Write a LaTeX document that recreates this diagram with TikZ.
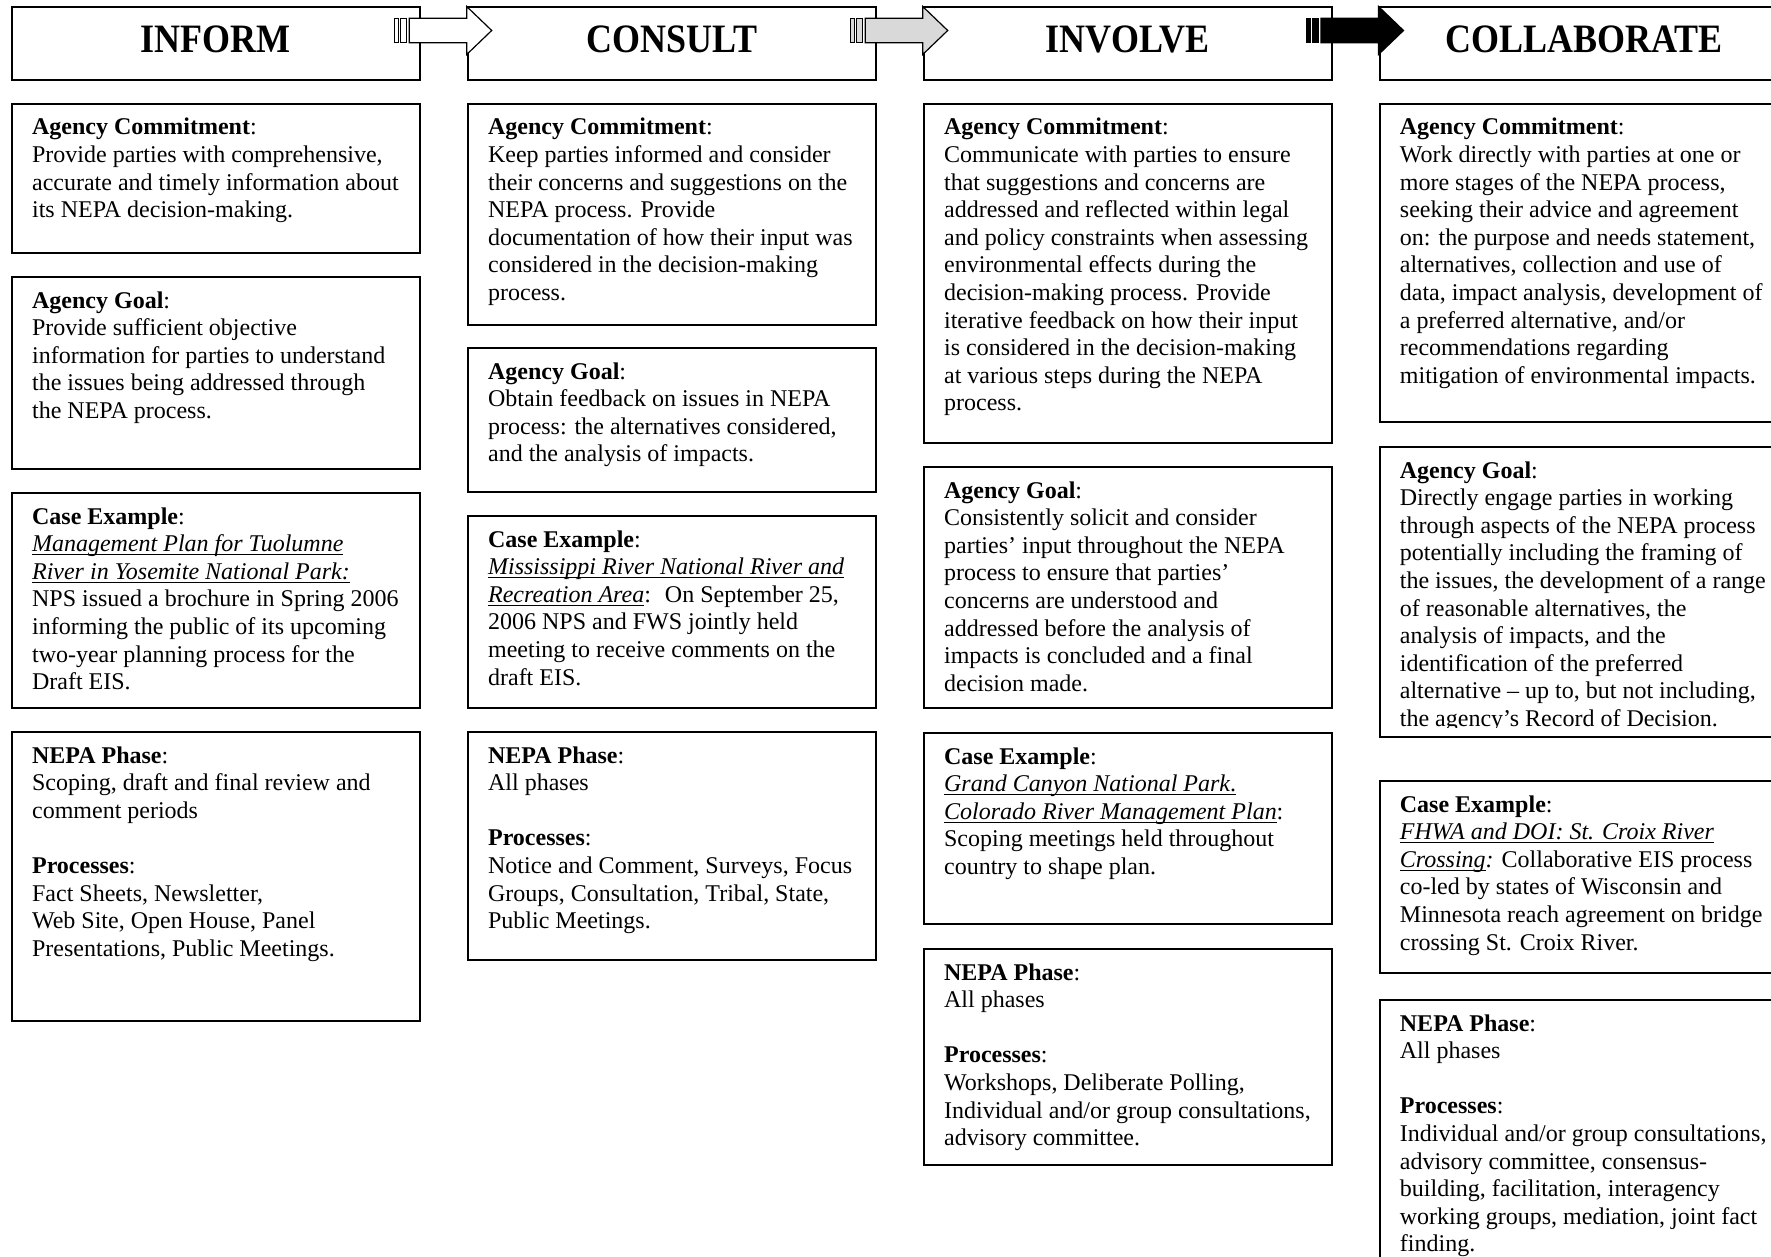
\documentclass[tikz,border=0pt]{standalone}
\usepackage{fontspec}
\setmainfont{Liberation Serif}
\usetikzlibrary{calc}
\definecolor{lgray}{RGB}{217,217,217}
\newcommand\rw[1]{\hbox{#1}}
\newcommand\uwl[1]{\setbox0=\hbox{#1}\rlap{\rule[-1.9pt]{\wd0}{0.55pt}}\box0}
\newcommand\lab[1]{\textbf{#1}:}
\newcommand\lns[1]{\vtop{\baselineskip=13.8pt\lineskiplimit=-20pt\lineskip=0pt #1}}
\tikzset{
  panel/.style={draw, line width=1pt, fill=white, inner sep=0pt, anchor=north west, minimum width=204.25pt},
  hdrbox/.style={draw, line width=1pt, fill=white, inner sep=0pt, anchor=north west, minimum width=204.25pt, minimum height=36.5pt},
  hdrtxt/.style={anchor=base, inner sep=0pt, font=\fontsize{18pt}{20pt}\selectfont\bfseries},
  txt/.style={anchor=base west, inner sep=0pt, font=\fontsize{12pt}{13.8pt}\selectfont},
  arrowline/.style={draw=black, line width=0.6pt}
}
\newcommand\panel[5]{%
  \node[panel, minimum height={(#4-#3)*0.5pt}] (#1) at (#2,#3) {};
  \node[txt] (#1t) at ($(#1.north west)+(21,32)$) {\lns{#5}};
}
\newcommand\blockarrow[3]{%
  \begin{scope}[shift={(#1.north west)}]
    \filldraw[arrowline, fill=#2] (-72,12.3) rectangle (-68,36.7);
    \filldraw[arrowline, fill=#2] (-66,12.3) rectangle (-60,36.7);
    \filldraw[arrowline, fill=#2] (-57.5,12.3) -- (0,12.3) -- (0,0.5) -- (25,24.5) -- (0,48.5) -- (0,36.7) -- (-57.5,36.7) -- cycle;
    \coordinate (#3) at (25,24.5);
  \end{scope}
}
\begin{document}
\begin{tikzpicture}[x=0.5pt, y=-0.5pt]
\useasboundingbox (0,0) rectangle (1771,1257);
\clip (0,0) rectangle (1771,1257);
\fill[white] (0,0) rectangle (1771,1257);

% headers
\node[hdrbox] (H1) at (10.7,6) {};
\node[hdrbox] (H2) at (466.7,6) {};
\node[hdrbox] (H3) at (922.7,6) {};
\node[hdrbox] (H4) at (1378.5,6) {};
\node[hdrtxt] (H1t) at ($(H1.north)+(0,47)$) {\scalebox{1}[1.12]{INFORM}};
\node[hdrtxt] (H2t) at ($(H2.north)+(0,47)$) {\scalebox{1}[1.12]{CONSULT}};
\node[hdrtxt] (H3t) at ($(H3.north)+(0,47)$) {\scalebox{1}[1.12]{INVOLVE}};
\node[hdrtxt] (H4t) at ($(H4.north)+(0,47)$) {\scalebox{1}[1.12]{COLLABORATE}};

% arrows between headers
\blockarrow{H2}{white}{A12}
\blockarrow{H3}{lgray}{A23}
\blockarrow{H4}{black}{A34}

% column 1: INFORM
\panel{c1a}{10.7}{103}{252}{%
  \rw{\lab{Agency Commitment}}
  \rw{Provide parties with comprehensive,}
  \rw{accurate and timely information about}
  \rw{its NEPA decision-making.}}
\panel{c1b}{10.7}{276}{468}{%
  \rw{\lab{Agency Goal}}
  \rw{Provide sufficient objective}
  \rw{information for parties to understand}
  \rw{the issues being addressed through}
  \rw{the NEPA process.}}
\panel{c1c}{10.7}{492}{707}{%
  \rw{\lab{Case Example}}
  \rw{\uwl{\textit{Management Plan for Tuolumne}}}
  \rw{\uwl{\textit{River in Yosemite National Park:}}}
  \rw{NPS issued a brochure in Spring 2006}
  \rw{informing the public of its upcoming}
  \rw{two-year planning process for the}
  \rw{Draft EIS.}}
\panel{c1d}{10.7}{731}{1020}{%
  \rw{\lab{NEPA Phase}}
  \rw{Scoping, draft and final review and}
  \rw{comment periods}
  \rw{}
  \rw{\lab{Processes}}
  \rw{Fact Sheets, Newsletter,}
  \rw{Web Site, Open House, Panel}
  \rw{Presentations, Public Meetings.}}

% column 2: CONSULT
\panel{c2a}{466.7}{103}{324}{%
  \rw{\lab{Agency Commitment}}
  \rw{Keep parties informed and consider}
  \rw{their concerns and suggestions on the}
  \rw{NEPA process. Provide}
  \rw{documentation of how their input was}
  \rw{considered in the decision-making}
  \rw{process.}}
\panel{c2b}{466.7}{347}{491}{%
  \rw{\lab{Agency Goal}}
  \rw{Obtain feedback on issues in NEPA}
  \rw{process: the alternatives considered,}
  \rw{and the analysis of impacts.}}
\panel{c2c}{466.7}{515}{707}{%
  \rw{\lab{Case Example}}
  \rw{\uwl{\textit{Mississippi River National River and}}}
  \rw{\uwl{\textit{Recreation Area}}: \ On September 25,}
  \rw{2006 NPS and FWS jointly held}
  \rw{meeting to receive comments on the}
  \rw{draft EIS.}}
\panel{c2d}{466.7}{731}{959}{%
  \rw{\lab{NEPA Phase}}
  \rw{All phases}
  \rw{}
  \rw{\lab{Processes}}
  \rw{Notice and Comment, Surveys, Focus}
  \rw{Groups, Consultation, Tribal, State,}
  \rw{Public Meetings.}}

% column 3: INVOLVE
\panel{c3a}{922.7}{103}{442}{%
  \rw{\lab{Agency Commitment}}
  \rw{Communicate with parties to ensure}
  \rw{that suggestions and concerns are}
  \rw{addressed and reflected within legal}
  \rw{and policy constraints when assessing}
  \rw{environmental effects during the}
  \rw{decision-making process. Provide}
  \rw{iterative feedback on how their input}
  \rw{is considered in the decision-making}
  \rw{at various steps during the NEPA}
  \rw{process.}}
\panel{c3b}{922.7}{466}{707}{%
  \rw{\lab{Agency Goal}}
  \rw{Consistently solicit and consider}
  \rw{parties’ input throughout the NEPA}
  \rw{process to ensure that parties’}
  \rw{concerns are understood and}
  \rw{addressed before the analysis of}
  \rw{impacts is concluded and a final}
  \rw{decision made.}}
\panel{c3c}{922.7}{732}{923}{%
  \rw{\lab{Case Example}}
  \rw{\uwl{\textit{Grand Canyon National Park}.}}
  \rw{\uwl{\textit{Colorado River Management Plan}}:}
  \rw{Scoping meetings held throughout}
  \rw{country to shape plan.}}
\panel{c3d}{922.7}{948}{1164}{%
  \rw{\lab{NEPA Phase}}
  \rw{All phases}
  \rw{}
  \rw{\lab{Processes}}
  \rw{Workshops, Deliberate Polling,}
  \rw{Individual and/or group consultations,}
  \rw{advisory committee.}}

% column 4: COLLABORATE
\panel{c4a}{1378.5}{103}{421}{%
  \rw{\lab{Agency Commitment}}
  \rw{Work directly with parties at one or}
  \rw{more stages of the NEPA process,}
  \rw{seeking their advice and agreement}
  \rw{on: the purpose and needs statement,}
  \rw{alternatives, collection and use of}
  \rw{data, impact analysis, development of}
  \rw{a preferred alternative, and/or}
  \rw{recommendations regarding}
  \rw{mitigation of environmental impacts.}}
\node[panel, minimum height={(736-446)*0.5pt}] (c4b) at (1378.5,446) {};
\begin{scope}
  \clip (1378.5,446) rectangle (1771,727.8);
  \node[txt] (c4bt) at ($(c4b.north west)+(21,32)$) {\lns{%
  \rw{\lab{Agency Goal}}
  \rw{Directly engage parties in working}
  \rw{through aspects of the NEPA process}
  \rw{potentially including the framing of}
  \rw{the issues, the development of a range}
  \rw{of reasonable alternatives, the}
  \rw{analysis of impacts, and the}
  \rw{identification of the preferred}
  \rw{alternative – up to, but not including,}
  \rw{the agency’s Record of Decision.}}};
\end{scope}
\panel{c4c}{1378.5}{780}{972}{%
  \rw{\lab{Case Example}}
  \rw{\uwl{\textit{FHWA and DOI: St. Croix River}}}
  \rw{\uwl{\textit{Crossing}}\textit{:} Collaborative EIS process}
  \rw{co-led by states of Wisconsin and}
  \rw{Minnesota reach agreement on bridge}
  \rw{crossing St. Croix River.}}
\panel{c4d}{1378.5}{999}{1300}{%
  \rw{\lab{NEPA Phase}}
  \rw{All phases}
  \rw{}
  \rw{\lab{Processes}}
  \rw{Individual and/or group consultations,}
  \rw{advisory committee, consensus-}
  \rw{building, facilitation, interagency}
  \rw{working groups, mediation, joint fact}
  \rw{finding.}}
\end{tikzpicture}
\end{document}
